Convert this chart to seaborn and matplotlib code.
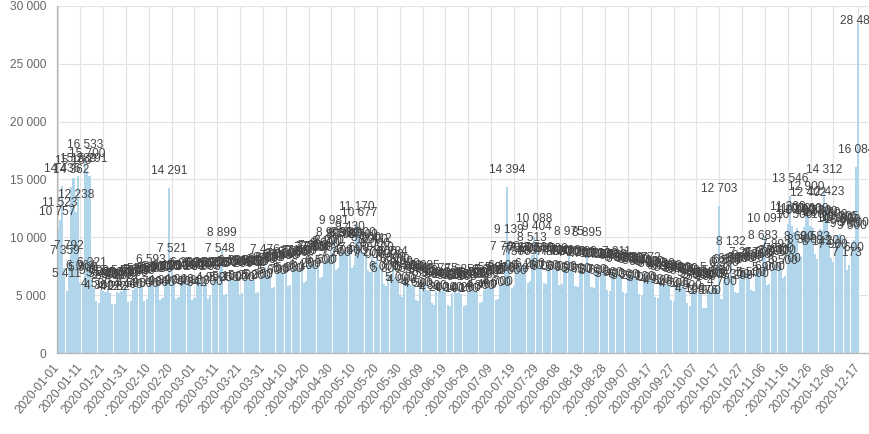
import numpy as np
import pandas as pd
import matplotlib
matplotlib.use("Agg")
import matplotlib.pyplot as plt
import seaborn as sns

# ---- data ----
start_date = "2020-01-01"
values = [
    10757, 11523, 14436, 7359, 5411, 7792, 14362, 15160, 12238, 15289,
    6064, 5900, 16533, 15700, 15291, 6321, 5600, 4500, 4300, 5500,
    5400, 5300, 5500, 5200, 4222, 4282, 5300, 5200, 5400, 5500,
    5600, 4400, 4500, 5500, 5600, 5700, 5600, 5800, 4500, 4700,
    5800, 6593, 5900, 6000, 5800, 4600, 4800, 6000, 6100, 14291,
    7521, 6000, 4700, 4900, 6100, 6200, 6300, 6100, 6000, 4642,
    4800, 6200, 6300, 6200, 6100, 6000, 4700, 4992, 6200, 6300,
    6300, 7548, 8899, 5000, 5100, 6300, 6400, 6500, 6300, 6200,
    5000, 5200, 6400, 6500, 6400, 6300, 6400, 5200, 5300, 6600,
    6700, 7476, 6800, 6800, 5600, 5700, 6900, 7000, 7100, 6900,
    7000, 5800, 5900, 7200, 7300, 7400, 7300, 7400, 6100, 6200,
    7600, 7700, 7800, 7700, 7600, 6500, 6600, 8000, 8100, 8200,
    8903, 9981, 7200, 7400, 8700, 8800, 8900, 8700, 9430, 7400,
    7600, 11170, 10677, 8900, 8700, 8500, 7200, 7000, 8300, 8000,
    8412, 7600, 7300, 6000, 5800, 7000, 6800, 7284, 6600, 6400,
    5000, 4900, 6200, 6100, 6000, 5900, 5800, 4600, 4500, 5700,
    5600, 6085, 5500, 5400, 4300, 4200, 5400, 5300, 5400, 5775,
    5300, 4200, 4100, 5200, 5300, 5200, 5685, 5100, 4100, 4200,
    5300, 5400, 5500, 5400, 5300, 4300, 4400, 5500, 5600, 5700,
    5600, 5891, 4600, 4700, 5900, 6100, 7700, 14394, 9139, 5600,
    5800, 7300, 7500, 7400, 7600, 7500, 6100, 6200, 8513, 10088,
    9404, 7600, 7500, 6100, 6000, 7400, 7300, 7500, 7400, 7300,
    5900, 6000, 7300, 7400, 8975, 7300, 7200, 5800, 5700, 7200,
    7300, 7100, 8895, 7100, 5700, 5600, 7100, 7000, 7000, 7100,
    7000, 5500, 5400, 7000, 6900, 7311, 6800, 6700, 5300, 5200,
    6800, 6700, 6600, 6700, 6500, 5100, 5000, 6400, 6772, 6400,
    6300, 6200, 4900, 4800, 6200, 6100, 6000, 6100, 5900, 4600,
    4500, 5900, 5800, 5700, 5800, 5600, 4300, 4100, 5500, 5400,
    5300, 5200, 5100, 3876, 3900, 5300, 5400, 5500, 5860, 5600,
    12703, 4700, 6300, 6500, 6600, 8132, 6700, 5300, 5200, 6700,
    6800, 7217, 6900, 6800, 5500, 5400, 7000, 7100, 7200, 8683,
    10097, 5900, 6000, 7300, 7400, 7892, 7500, 7400, 6500, 6700,
    11200, 13546, 11000, 10500, 10800, 8600, 8300, 10900, 12900, 12402,
    11000, 10800, 8583, 8143, 10700, 10600, 14312, 12423, 10500, 8200,
    7900, 10100, 10200, 10305, 10000, 9700, 7173, 7600, 9500, 9800,
    16084, 28480,
]
ytick_values = [0, 5000, 10000, 15000, 20000, 25000, 30000]
tick_step_days = 10

dates = pd.date_range(start_date, periods=len(values), freq="D")
df = pd.DataFrame({"idx": np.arange(len(values)), "value": values,
                   "date": dates.strftime("%Y-%m-%d")})

# ---- style ----
sns.set_theme(style="white")
plt.rcParams["font.family"] = ["Liberation Sans", "DejaVu Sans"]

W, H = 869, 434
fig = plt.figure(figsize=(W / 100, H / 100), dpi=100)
left_px, right_px, top_px, bottom_px = 57, 868, 5.7, 353.3
ax = fig.add_axes([left_px / W, 1 - bottom_px / H,
                   (right_px - left_px) / W, (bottom_px - top_px) / H])

bar_color = "#b1d6ec"
sns.barplot(data=df, x="idx", y="value", color=bar_color, saturation=1,
            width=0.92, ax=ax, native_scale=True, linewidth=0)

ax.set_ylim(0, 30000)
ax.set_xlim(-0.25, 355.2)

# grid / ticks: every 10th day, plus the last day
n = len(values)
tick_pos = list(range(0, n - 1 - tick_step_days // 2, tick_step_days)) + [n - 1]
ax.set_xticks(tick_pos)
ax.set_xticklabels([df["date"][p] for p in tick_pos], rotation=50,
                   ha="right", va="center", rotation_mode="anchor",
                   fontsize=8.6, color="#666666")
ax.set_yticks(ytick_values)
ax.set_yticklabels([f"{v:,}".replace(",", " ") for v in ytick_values],
                   fontsize=8.6, color="#666666")
ax.tick_params(axis="x", length=6.5, width=0.8, color="#e2e2e2", pad=2)
ax.tick_params(axis="y", length=6.5, width=0.8, color="#e2e2e2", pad=1.5)
ax.grid(True, axis="both", color="#e2e2e2", linewidth=0.8)
ax.set_axisbelow(True)
for s in ["top", "right"]:
    ax.spines[s].set_visible(False)
for s in ["left", "bottom"]:
    ax.spines[s].set_color("#b5b5b5")
    ax.spines[s].set_linewidth(0.9)
ax.set_xlabel("")
ax.set_ylabel("")

# value labels
px_per_unit = (bottom_px - top_px) / 30000
for i, v in enumerate(values):
    bar_top_px = bottom_px - v * px_per_unit
    off = 17 if bar_top_px - 17 > top_px + 14 else 2
    ax.annotate(f"{v:,}".replace(",", " "), (i, v), xytext=(0, off * 0.72),
                textcoords="offset points", ha="center", va="center",
                fontsize=8.6, color="#444444", annotation_clip=False)

# small dots under the axis labels (present in the reference)
for xd in [106, 266, 426, 586, 746]:
    fig.text(xd / W, 1 - 416 / H, "•", fontsize=4.5, color="#444444",
             ha="center", va="center")

fig.savefig("out.png", dpi=100)
